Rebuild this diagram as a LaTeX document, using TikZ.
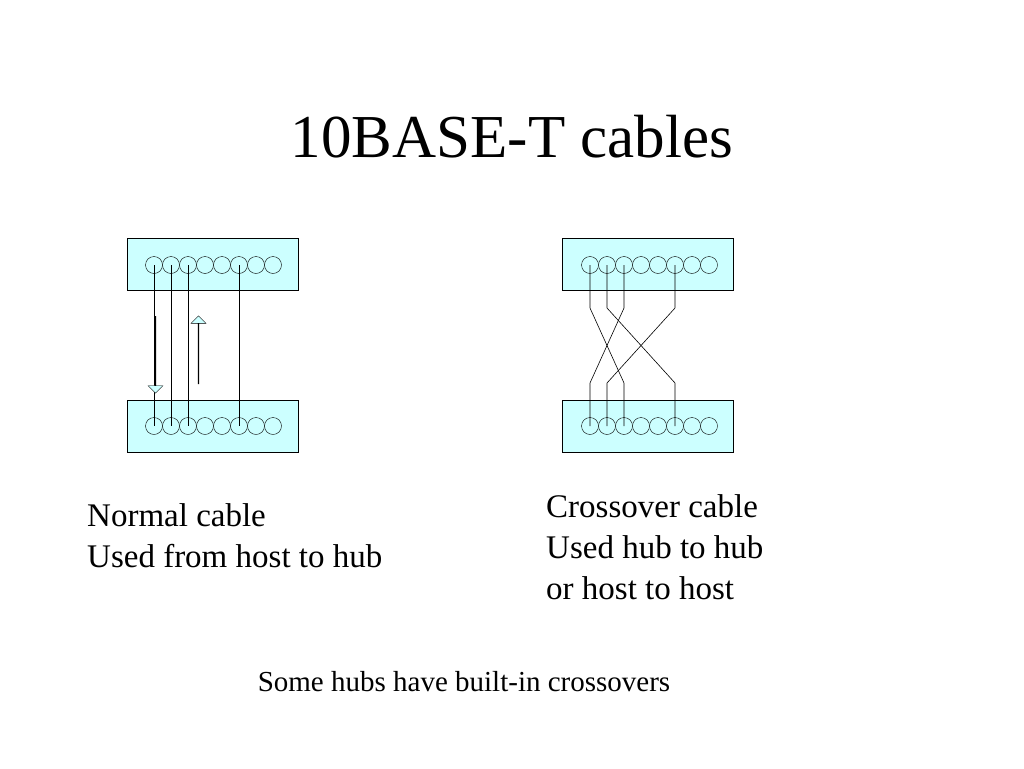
\documentclass[tikz,border=0pt]{standalone}
\usepackage{fontspec}
\setmainfont{Liberation Serif}
\usetikzlibrary{shapes.arrows, positioning, calc}
\definecolor{plugbg}{RGB}{204,255,255}
\tikzset{
  plug/.style={rectangle, draw=black, fill=plugbg, minimum width=171pt,
               minimum height=52pt, inner sep=0pt},
  pin/.style={circle, draw=black, fill=plugbg, minimum size=17pt, inner sep=0pt},
  wire/.style={draw=black, line width=0.6pt},
  flow/.style={single arrow, draw=black, fill=plugbg, minimum width=15pt,
               single arrow head extend=3.5pt, single arrow head indent=0pt,
               inner sep=0pt},
  caption/.style={align=left, anchor=north west, inner sep=0pt,
                  font=\fontsize{33}{41}\selectfont},
}

\begin{document}
\begin{tikzpicture}[x=1pt, y=-1pt]
    \useasboundingbox (0,0) rectangle (1024,768);

    \node (title) at (512,137) {\fontsize{61}{70}\selectfont 10BASE-T cables};

    % plugs
    \node[plug] (ltop) at (213,264) {};
    \node[plug] (lbot) at (213,426) {};
    \node[plug] (rtop) at (648,264) {};
    \node[plug] (rbot) at (648,426) {};

    \foreach \i in {1,...,8} {
      \node[pin] (lt\i) at ({154+17*(\i-1)},265) {};
      \node[pin] (lb\i) at ({154+17*(\i-1)},426) {};
      \node[pin] (rt\i) at ({590+17*(\i-1)},265) {};
      \node[pin] (rb\i) at ({590+17*(\i-1)},426) {};
    }

    % normal cable
    \foreach \i in {1,2,3,6}
      \draw[wire] (lt\i.center) -- (lb\i.center);

    \node[flow, shape border rotate=270, minimum height=77pt] (txflow) at (155.5,354.5) {};
    \node[flow, shape border rotate=90, minimum height=68pt] (rxflow) at (198.5,350) {};

    % crossover cable
    \foreach \a/\b in {1/3, 2/6, 3/1, 6/2}
      \draw[wire] (rt\a.center) -- ++(0,43) -- ($(rb\b.center)+(0,-43)$) -- (rb\b.center);

    % captions
    \node[caption] (normal) at (87,503) {Normal cable\\Used from host to hub};
    \node[caption] (cross) at (546,494) {Crossover cable\\Used hub to hub\\or host to host};
    \node[font=\fontsize{29}{35}\selectfont] (note) at (464,682) {Some hubs have built-in crossovers};
\end{tikzpicture}
\end{document}
